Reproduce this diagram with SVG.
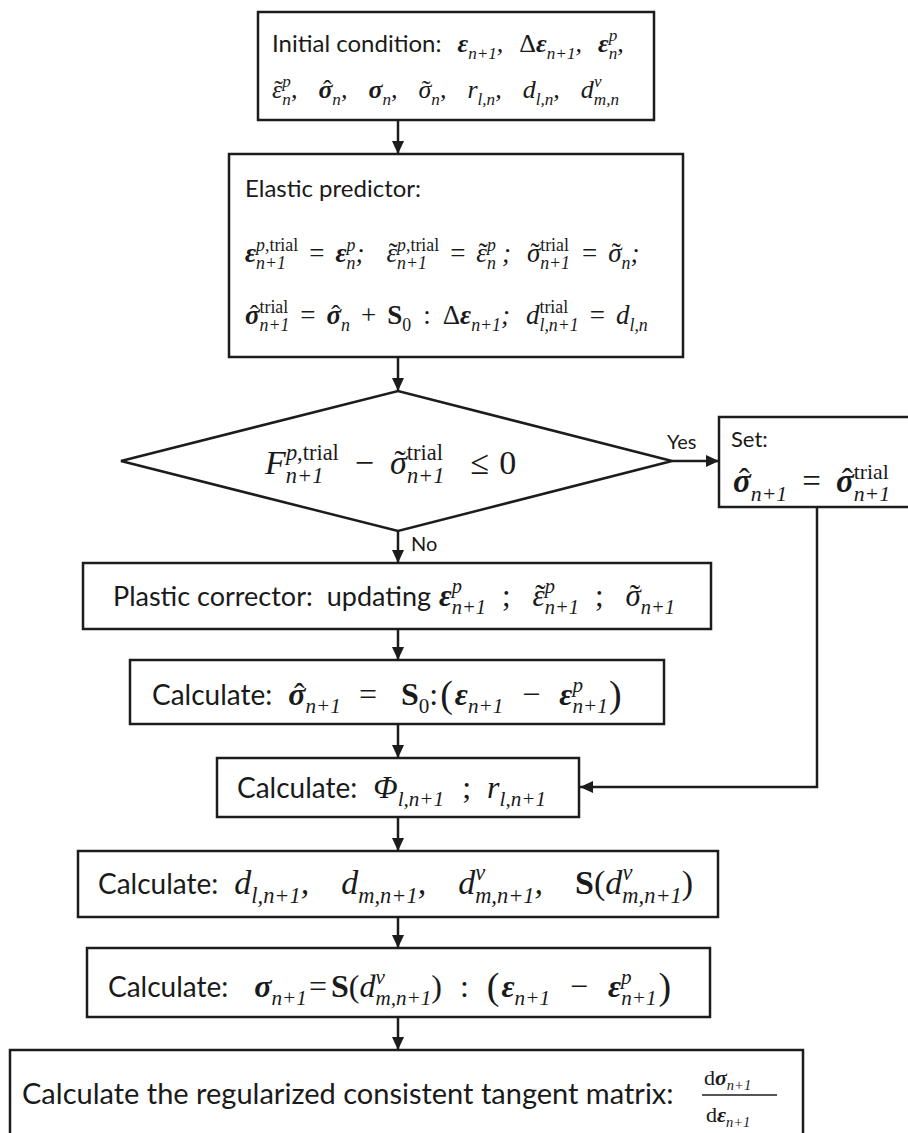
<svg xmlns="http://www.w3.org/2000/svg" width="908" height="1133" viewBox="0 0 908 1133">
  <defs>
    <style>
      .box { fill: #ffffff; stroke: #1c1c1c; stroke-width: 2.5; }
      .wire { fill: none; stroke: #1c1c1c; stroke-width: 2.5; }
      text { fill: #1a1a1a; }
      .lb { font-family: Lato, "Liberation Sans", sans-serif; font-style: normal; font-weight: normal; }
      .m { font-family: "Liberation Serif", "DejaVu Serif", serif; font-style: italic; font-weight: normal; }
      .mb { font-family: "Liberation Serif", "DejaVu Serif", serif; font-style: italic; font-weight: bold; }
      .mu { font-family: "Liberation Serif", "DejaVu Serif", serif; font-style: normal; font-weight: normal; }
      .mub { font-family: "Liberation Serif", "DejaVu Serif", serif; font-style: normal; font-weight: bold; }
      .ms { font-family: "Liberation Serif", "DejaVu Serif", serif; font-style: italic; font-weight: normal; font-size: 66%; }
      .msu { font-family: "Liberation Serif", "DejaVu Serif", serif; font-style: normal; font-weight: normal; font-size: 66%; }
      .up { font-style: normal; }
    </style>
    <marker id="ah" markerUnits="userSpaceOnUse" markerWidth="14" markerHeight="14" viewBox="0 0 14 14" refX="13" refY="7" orient="auto">
      <path d="M0,1 L13,7 L0,13 Z" fill="#1c1c1c"/>
    </marker>
  </defs>

  <!-- flow connectors -->
  <g id="connectors">
    <line class="wire" x1="398" y1="120" x2="398" y2="154" marker-end="url(#ah)"/>
    <line class="wire" x1="398" y1="357" x2="398" y2="391" marker-end="url(#ah)"/>
    <line class="wire" x1="672" y1="461" x2="719" y2="461" marker-end="url(#ah)"/>
    <line class="wire" x1="398" y1="531" x2="398" y2="563" marker-end="url(#ah)"/>
    <line class="wire" x1="398" y1="629" x2="398" y2="660" marker-end="url(#ah)"/>
    <line class="wire" x1="398" y1="724" x2="398" y2="758" marker-end="url(#ah)"/>
    <polyline class="wire" points="817,507 817,787 580,787" marker-end="url(#ah)"/>
    <line class="wire" x1="398" y1="817" x2="398" y2="851" marker-end="url(#ah)"/>
    <line class="wire" x1="398" y1="917" x2="398" y2="948" marker-end="url(#ah)"/>
    <line class="wire" x1="398" y1="1017" x2="398" y2="1050" marker-end="url(#ah)"/>
    <text class="lb" x="667" y="449" font-size="20">Yes</text>
    <text class="lb" x="411" y="551" font-size="20">No</text>
  </g>

  <!-- initial state -->
  <g id="initial">
    <rect class="box" x="258" y="12" width="396" height="108"/>
    <text x="272" y="52" font-size="26"><tspan class="lb" font-size="24">Initial condition:</tspan><tspan class="mb" dx="16">ε</tspan><tspan class="ms" dy="7">n+1</tspan><tspan class="m" dy="-7">,</tspan><tspan class="mu" dx="16">Δ</tspan><tspan class="mb">ε</tspan><tspan class="ms" dy="7">n+1</tspan><tspan class="m" dy="-7">,</tspan><tspan class="mb" dx="16">ε</tspan><tspan class="ms" dy="7">n</tspan><tspan class="ms" dx="-8.6" dy="-18">p</tspan><tspan class="m" dy="11">,</tspan></text>
    <text x="272" y="98" font-size="26"><tspan class="m">ε</tspan><tspan class="mu" dx="-8">˜</tspan><tspan class="ms" dx="-0.6" dy="7">n</tspan><tspan class="ms" dx="-8.6" dy="-18">p</tspan><tspan class="m" dy="11">,</tspan><tspan class="mb" dx="21">σ</tspan><tspan class="mu" dx="-9.5">ˆ</tspan><tspan class="ms" dx="0.8" dy="7">n</tspan><tspan class="m" dy="-7">,</tspan><tspan class="mb" dx="21">σ</tspan><tspan class="ms" dy="7">n</tspan><tspan class="m" dy="-7">,</tspan><tspan class="m" dx="21">σ</tspan><tspan class="mu" dx="-9.5">˜</tspan><tspan class="ms" dx="0.8" dy="7">n</tspan><tspan class="m" dy="-7">,</tspan><tspan class="m" dx="21">r</tspan><tspan class="ms" dy="7">l,n</tspan><tspan class="m" dy="-7">,</tspan><tspan class="m" dx="21">d</tspan><tspan class="ms" dy="7">l,n</tspan><tspan class="m" dy="-7">,</tspan><tspan class="m" dx="21">d</tspan><tspan class="ms" dy="7">m,n</tspan><tspan class="ms" dx="-25" dy="-18">v</tspan></text>
  </g>

  <!-- elastic predictor -->
  <g id="elastic-predictor">
    <rect class="box" x="229" y="154" width="454" height="203"/>
    <text class="lb" x="245" y="197" font-size="24">Elastic predictor:</text>
    <text x="245" y="262" font-size="27"><tspan class="mb">ε</tspan><tspan class="ms" dy="7">n+1</tspan><tspan class="ms" dx="-29.8" dy="-18">p<tspan class="up">,trial</tspan></tspan><tspan class="mu" dx="11" dy="11">=</tspan><tspan class="mb" dx="11">ε</tspan><tspan class="ms" dy="7">n</tspan><tspan class="ms" dx="-8.9" dy="-18">p</tspan><tspan class="m" dy="11">;</tspan><tspan class="m" dx="22">ε</tspan><tspan class="mu" dx="-8.25">˜</tspan><tspan class="ms" dx="-0.75" dy="7">n+1</tspan><tspan class="ms" dx="-29.8" dy="-18">p<tspan class="up">,trial</tspan></tspan><tspan class="mu" dx="11" dy="11">=</tspan><tspan class="m" dx="11">ε</tspan><tspan class="mu" dx="-8.25">˜</tspan><tspan class="ms" dx="-0.75" dy="7">n</tspan><tspan class="ms" dx="-8.9" dy="-18">p</tspan><tspan class="m" dx="6" dy="11">;</tspan><tspan class="m" dx="16">σ</tspan><tspan class="mu" dx="-9.8">˜</tspan><tspan class="msu" dx="0.75" dy="-11">trial</tspan><tspan class="ms" dx="-28.7" dy="18">n+1</tspan><tspan class="mu" dx="12" dy="-7">=</tspan><tspan class="m" dx="11">σ</tspan><tspan class="mu" dx="-9.8">˜</tspan><tspan class="ms" dx="0.75" dy="7">n</tspan><tspan class="m" dy="-7">;</tspan></text>
    <text x="245" y="324" font-size="27"><tspan class="mb">σ</tspan><tspan class="mu" dx="-9.8">ˆ</tspan><tspan class="msu" dx="0.75" dy="-11">trial</tspan><tspan class="ms" dx="-28.7" dy="18">n+1</tspan><tspan class="mu" dx="11" dy="-7">=</tspan><tspan class="mb" dx="11">σ</tspan><tspan class="mu" dx="-9.8">ˆ</tspan><tspan class="ms" dx="0.75" dy="7">n</tspan><tspan class="mu" dx="11" dy="-7">+</tspan><tspan class="mub" dx="11">S</tspan><tspan class="msu" dy="7">0</tspan><tspan class="mu" dx="12" dy="-7">:</tspan><tspan class="mu" dx="12">Δ</tspan><tspan class="mb">ε</tspan><tspan class="ms" dy="7">n+1</tspan><tspan class="m" dy="-7">;</tspan><tspan class="m" dx="16">d</tspan><tspan class="msu" dy="-11">trial</tspan><tspan class="ms" dx="-28.7" dy="18">l,n+1</tspan><tspan class="mu" dx="11" dy="-7">=</tspan><tspan class="m" dx="11">d</tspan><tspan class="ms" dy="7">l,n</tspan></text>
  </g>

  <!-- yield check -->
  <g id="yield-check">
    <path class="box" d="M121,461 L398,391 L672,461 L398,531 Z"/>
    <text x="265" y="474" font-size="34"><tspan class="m">F</tspan><tspan class="ms" dy="9">n+1</tspan><tspan class="ms" dx="-37.5" dy="-23">p<tspan class="up">,trial</tspan></tspan><tspan class="mu" dx="16" dy="14">−</tspan><tspan class="m" dx="16">σ</tspan><tspan class="mu" dx="-12.3">˜</tspan><tspan class="msu" dx="1" dy="-14">trial</tspan><tspan class="ms" dx="-36.1" dy="23">n+1</tspan><tspan class="mu" dx="26" dy="-9">≤</tspan><tspan class="mu" dx="10">0</tspan></text>
  </g>

  <!-- elastic step accepted -->
  <g id="set-trial">
    <rect class="box" x="719" y="417" width="200" height="90"/>
    <text class="lb" x="731" y="447" font-size="22">Set:</text>
    <text x="733" y="492" font-size="33"><tspan class="mb">σ</tspan><tspan class="mu" dx="-12">ˆ</tspan><tspan class="ms" dx="1" dy="9">n+1</tspan><tspan class="mu" dx="15" dy="-9">=</tspan><tspan class="mb" dx="15">σ</tspan><tspan class="mu" dx="-12">ˆ</tspan><tspan class="msu" dx="1" dy="-13">trial</tspan><tspan class="ms" dx="-35.1" dy="22">n+1</tspan></text>
  </g>

  <!-- plastic corrector -->
  <g id="plastic-corrector">
    <rect class="box" x="83" y="563" width="628" height="66"/>
    <text x="113" y="606" font-size="31"><tspan class="lb" font-size="27">Plastic corrector:</tspan><tspan class="lb" font-size="27" dx="14">updating</tspan><tspan class="mb" dx="8">ε</tspan><tspan class="ms" dy="8">n+1</tspan><tspan class="ms" dx="-34.3" dy="-21">p</tspan><tspan class="mu" dx="40" dy="13">;</tspan><tspan class="m" dx="22">ε</tspan><tspan class="mu" dx="-9.5">˜</tspan><tspan class="ms" dx="-0.85" dy="8">n+1</tspan><tspan class="ms" dx="-34.3" dy="-21">p</tspan><tspan class="mu" dx="40" dy="13">;</tspan><tspan class="m" dx="22">σ</tspan><tspan class="mu" dx="-11.15">˜</tspan><tspan class="ms" dx="0.85" dy="8">n+1</tspan></text>
  </g>

  <!-- stress update -->
  <g id="effective-stress">
    <rect class="box" x="130" y="660" width="534" height="64"/>
    <text x="152" y="705" font-size="32"><tspan class="lb" font-size="28">Calculate:</tspan><tspan class="mb" dx="16">σ</tspan><tspan class="mu" dx="-11.55">ˆ</tspan><tspan class="ms" dx="0.85" dy="8">n+1</tspan><tspan class="mu" dx="18" dy="-8">=</tspan><tspan class="mub" dx="24">S</tspan><tspan class="msu" dy="8">0</tspan><tspan class="mu" dy="-8">:</tspan><tspan class="mu" font-size="38" dx="2" dy="2">(</tspan><tspan class="mb" dx="2" dy="-2">ε</tspan><tspan class="ms" dy="8">n+1</tspan><tspan class="mu" dx="19" dy="-8">−</tspan><tspan class="mb" dx="19">ε</tspan><tspan class="ms" dy="8">n+1</tspan><tspan class="ms" dx="-35.4" dy="-21">p</tspan><tspan class="mu" font-size="38" dx="26" dy="15">)</tspan></text>
  </g>

  <!-- damage driving force -->
  <g id="driving-force">
    <rect class="box" x="217" y="758" width="362" height="59"/>
    <text x="237" y="798" font-size="32"><tspan class="lb" font-size="28">Calculate:</tspan><tspan class="m" dx="16">Φ</tspan><tspan class="ms" dy="8">l,n+1</tspan><tspan class="mu" dx="18" dy="-8">;</tspan><tspan class="m" dx="16">r</tspan><tspan class="ms" dy="8">l,n+1</tspan></text>
  </g>

  <!-- damage variables -->
  <g id="damage">
    <rect class="box" x="78" y="851" width="640" height="66"/>
    <text x="98" y="894" font-size="34"><tspan class="lb" font-size="28">Calculate:</tspan><tspan class="m" dx="16">d</tspan><tspan class="ms" dy="9">l,n+1</tspan><tspan class="m" dy="-9">,</tspan><tspan class="m" dx="32">d</tspan><tspan class="ms" dy="9">m,n+1</tspan><tspan class="m" dy="-9">,</tspan><tspan class="m" dx="32">d</tspan><tspan class="ms" dy="9">m,n+1</tspan><tspan class="ms" dx="-59.3" dy="-23">v</tspan><tspan class="m" dx="49.4" dy="14">,</tspan><tspan class="mub" dx="32">S</tspan><tspan class="mu">(</tspan><tspan class="m">d</tspan><tspan class="ms" dy="9">m,n+1</tspan><tspan class="ms" dx="-59.3" dy="-23">v</tspan><tspan class="mu" dx="49.4" dy="14">)</tspan></text>
  </g>

  <!-- nominal stress -->
  <g id="nominal-stress">
    <rect class="box" x="87" y="948" width="623" height="69"/>
    <text x="108" y="997" font-size="32"><tspan class="lb" font-size="28">Calculate:</tspan><tspan class="mb" dx="26">σ</tspan><tspan class="ms" dy="8">n+1</tspan><tspan class="mu" dx="2" dy="-8">=</tspan><tspan class="mub" dx="4">S</tspan><tspan class="mu">(</tspan><tspan class="m">d</tspan><tspan class="ms" dy="8">m,n+1</tspan><tspan class="ms" dx="-55.9" dy="-21">v</tspan><tspan class="mu" dx="46.5" dy="13">)</tspan><tspan class="mu" dx="18">:</tspan><tspan class="mu" font-size="38" dx="18" dy="2">(</tspan><tspan class="mb" dx="2" dy="-2">ε</tspan><tspan class="ms" dy="8">n+1</tspan><tspan class="mu" dx="20" dy="-8">−</tspan><tspan class="mb" dx="20">ε</tspan><tspan class="ms" dy="8">n+1</tspan><tspan class="ms" dx="-35.4" dy="-21">p</tspan><tspan class="mu" font-size="38" dx="26.8" dy="15">)</tspan></text>
  </g>

  <!-- consistent tangent -->
  <g id="tangent">
    <rect class="box" x="10" y="1050" width="793" height="100"/>
    <text class="lb" x="22" y="1104" font-size="29">Calculate the regularized consistent tangent matrix:</text>
    <text x="704" y="1085" font-size="22"><tspan class="mu">d</tspan><tspan class="mb">σ</tspan><tspan class="ms" dy="5">n+1</tspan></text>
    <line x1="702" y1="1095" x2="777" y2="1095" stroke="#1c1c1c" stroke-width="1.5"/>
    <text x="706" y="1122" font-size="22"><tspan class="mu">d</tspan><tspan class="mb">ε</tspan><tspan class="ms" dy="5">n+1</tspan></text>
  </g>
</svg>
